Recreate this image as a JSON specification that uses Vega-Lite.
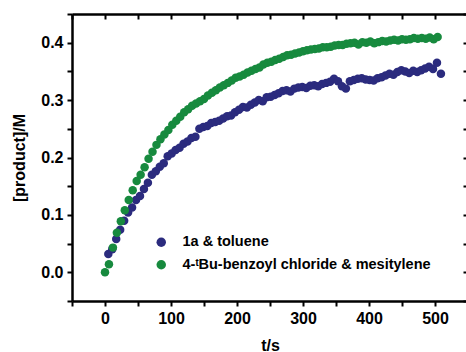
{
  "$schema": "https://vega.github.io/schema/vega-lite/v6.json",
  "width": 396,
  "height": 287,
  "autosize": {"type": "none"},
  "padding": {"left": 72, "top": 14, "right": 0, "bottom": 51},
  "background": "white",
  "config": {
    "view": {"stroke": null},
    "font": "Liberation Sans",
    "axis": {
      "domain": true,
      "domainColor": "black",
      "domainWidth": 2.5,
      "grid": false,
      "tickColor": "black",
      "tickWidth": 2,
      "labelFont": "Liberation Sans",
      "labelFontWeight": "bold",
      "labelFontSize": 16,
      "labelColor": "black",
      "titleFont": "Liberation Sans",
      "titleFontWeight": "bold",
      "titleFontSize": 16,
      "titleColor": "black"
    }
  },
  "datasets": {
    "pts": [
      {"t": 5, "v": 0.032, "s": "1a & toluene"},
      {"t": 11, "v": 0.040, "s": "1a & toluene"},
      {"t": 17, "v": 0.058, "s": "1a & toluene"},
      {"t": 23, "v": 0.074, "s": "1a & toluene"},
      {"t": 29, "v": 0.090, "s": "1a & toluene"},
      {"t": 35, "v": 0.104, "s": "1a & toluene"},
      {"t": 41, "v": 0.113, "s": "1a & toluene"},
      {"t": 47, "v": 0.126, "s": "1a & toluene"},
      {"t": 53, "v": 0.133, "s": "1a & toluene"},
      {"t": 59, "v": 0.145, "s": "1a & toluene"},
      {"t": 65, "v": 0.156, "s": "1a & toluene"},
      {"t": 71, "v": 0.170, "s": "1a & toluene"},
      {"t": 77, "v": 0.176, "s": "1a & toluene"},
      {"t": 83, "v": 0.184, "s": "1a & toluene"},
      {"t": 89, "v": 0.190, "s": "1a & toluene"},
      {"t": 95, "v": 0.202, "s": "1a & toluene"},
      {"t": 101, "v": 0.207, "s": "1a & toluene"},
      {"t": 107, "v": 0.213, "s": "1a & toluene"},
      {"t": 113, "v": 0.217, "s": "1a & toluene"},
      {"t": 119, "v": 0.224, "s": "1a & toluene"},
      {"t": 125, "v": 0.228, "s": "1a & toluene"},
      {"t": 131, "v": 0.234, "s": "1a & toluene"},
      {"t": 137, "v": 0.236, "s": "1a & toluene"},
      {"t": 143, "v": 0.250, "s": "1a & toluene"},
      {"t": 149, "v": 0.253, "s": "1a & toluene"},
      {"t": 155, "v": 0.255, "s": "1a & toluene"},
      {"t": 161, "v": 0.260, "s": "1a & toluene"},
      {"t": 167, "v": 0.262, "s": "1a & toluene"},
      {"t": 173, "v": 0.264, "s": "1a & toluene"},
      {"t": 179, "v": 0.268, "s": "1a & toluene"},
      {"t": 185, "v": 0.272, "s": "1a & toluene"},
      {"t": 191, "v": 0.273, "s": "1a & toluene"},
      {"t": 197, "v": 0.279, "s": "1a & toluene"},
      {"t": 203, "v": 0.283, "s": "1a & toluene"},
      {"t": 209, "v": 0.288, "s": "1a & toluene"},
      {"t": 215, "v": 0.287, "s": "1a & toluene"},
      {"t": 221, "v": 0.292, "s": "1a & toluene"},
      {"t": 227, "v": 0.296, "s": "1a & toluene"},
      {"t": 233, "v": 0.300, "s": "1a & toluene"},
      {"t": 239, "v": 0.298, "s": "1a & toluene"},
      {"t": 245, "v": 0.305, "s": "1a & toluene"},
      {"t": 251, "v": 0.306, "s": "1a & toluene"},
      {"t": 257, "v": 0.309, "s": "1a & toluene"},
      {"t": 263, "v": 0.312, "s": "1a & toluene"},
      {"t": 269, "v": 0.316, "s": "1a & toluene"},
      {"t": 275, "v": 0.317, "s": "1a & toluene"},
      {"t": 281, "v": 0.315, "s": "1a & toluene"},
      {"t": 287, "v": 0.320, "s": "1a & toluene"},
      {"t": 293, "v": 0.322, "s": "1a & toluene"},
      {"t": 299, "v": 0.323, "s": "1a & toluene"},
      {"t": 305, "v": 0.321, "s": "1a & toluene"},
      {"t": 311, "v": 0.325, "s": "1a & toluene"},
      {"t": 317, "v": 0.326, "s": "1a & toluene"},
      {"t": 323, "v": 0.324, "s": "1a & toluene"},
      {"t": 329, "v": 0.328, "s": "1a & toluene"},
      {"t": 335, "v": 0.330, "s": "1a & toluene"},
      {"t": 341, "v": 0.332, "s": "1a & toluene"},
      {"t": 347, "v": 0.337, "s": "1a & toluene"},
      {"t": 353, "v": 0.333, "s": "1a & toluene"},
      {"t": 359, "v": 0.324, "s": "1a & toluene"},
      {"t": 365, "v": 0.320, "s": "1a & toluene"},
      {"t": 371, "v": 0.333, "s": "1a & toluene"},
      {"t": 377, "v": 0.335, "s": "1a & toluene"},
      {"t": 383, "v": 0.337, "s": "1a & toluene"},
      {"t": 389, "v": 0.338, "s": "1a & toluene"},
      {"t": 395, "v": 0.336, "s": "1a & toluene"},
      {"t": 401, "v": 0.335, "s": "1a & toluene"},
      {"t": 407, "v": 0.334, "s": "1a & toluene"},
      {"t": 413, "v": 0.338, "s": "1a & toluene"},
      {"t": 419, "v": 0.340, "s": "1a & toluene"},
      {"t": 425, "v": 0.343, "s": "1a & toluene"},
      {"t": 431, "v": 0.346, "s": "1a & toluene"},
      {"t": 437, "v": 0.344, "s": "1a & toluene"},
      {"t": 443, "v": 0.349, "s": "1a & toluene"},
      {"t": 449, "v": 0.352, "s": "1a & toluene"},
      {"t": 455, "v": 0.350, "s": "1a & toluene"},
      {"t": 461, "v": 0.347, "s": "1a & toluene"},
      {"t": 467, "v": 0.351, "s": "1a & toluene"},
      {"t": 473, "v": 0.349, "s": "1a & toluene"},
      {"t": 479, "v": 0.352, "s": "1a & toluene"},
      {"t": 485, "v": 0.355, "s": "1a & toluene"},
      {"t": 491, "v": 0.358, "s": "1a & toluene"},
      {"t": 497, "v": 0.354, "s": "1a & toluene"},
      {"t": 503, "v": 0.365, "s": "1a & toluene"},
      {"t": 509, "v": 0.346, "s": "1a & toluene"},
      {"t": 0, "v": 0.000, "s": "4-ᵗBu-benzoyl chloride & mesitylene"},
      {"t": 6, "v": 0.014, "s": "4-ᵗBu-benzoyl chloride & mesitylene"},
      {"t": 12, "v": 0.043, "s": "4-ᵗBu-benzoyl chloride & mesitylene"},
      {"t": 18, "v": 0.069, "s": "4-ᵗBu-benzoyl chloride & mesitylene"},
      {"t": 24, "v": 0.089, "s": "4-ᵗBu-benzoyl chloride & mesitylene"},
      {"t": 30, "v": 0.108, "s": "4-ᵗBu-benzoyl chloride & mesitylene"},
      {"t": 36, "v": 0.126, "s": "4-ᵗBu-benzoyl chloride & mesitylene"},
      {"t": 42, "v": 0.143, "s": "4-ᵗBu-benzoyl chloride & mesitylene"},
      {"t": 48, "v": 0.159, "s": "4-ᵗBu-benzoyl chloride & mesitylene"},
      {"t": 54, "v": 0.170, "s": "4-ᵗBu-benzoyl chloride & mesitylene"},
      {"t": 60, "v": 0.183, "s": "4-ᵗBu-benzoyl chloride & mesitylene"},
      {"t": 66, "v": 0.198, "s": "4-ᵗBu-benzoyl chloride & mesitylene"},
      {"t": 72, "v": 0.210, "s": "4-ᵗBu-benzoyl chloride & mesitylene"},
      {"t": 78, "v": 0.222, "s": "4-ᵗBu-benzoyl chloride & mesitylene"},
      {"t": 84, "v": 0.232, "s": "4-ᵗBu-benzoyl chloride & mesitylene"},
      {"t": 90, "v": 0.240, "s": "4-ᵗBu-benzoyl chloride & mesitylene"},
      {"t": 96, "v": 0.248, "s": "4-ᵗBu-benzoyl chloride & mesitylene"},
      {"t": 102, "v": 0.257, "s": "4-ᵗBu-benzoyl chloride & mesitylene"},
      {"t": 108, "v": 0.264, "s": "4-ᵗBu-benzoyl chloride & mesitylene"},
      {"t": 114, "v": 0.271, "s": "4-ᵗBu-benzoyl chloride & mesitylene"},
      {"t": 120, "v": 0.279, "s": "4-ᵗBu-benzoyl chloride & mesitylene"},
      {"t": 126, "v": 0.284, "s": "4-ᵗBu-benzoyl chloride & mesitylene"},
      {"t": 132, "v": 0.290, "s": "4-ᵗBu-benzoyl chloride & mesitylene"},
      {"t": 138, "v": 0.294, "s": "4-ᵗBu-benzoyl chloride & mesitylene"},
      {"t": 144, "v": 0.298, "s": "4-ᵗBu-benzoyl chloride & mesitylene"},
      {"t": 150, "v": 0.302, "s": "4-ᵗBu-benzoyl chloride & mesitylene"},
      {"t": 156, "v": 0.308, "s": "4-ᵗBu-benzoyl chloride & mesitylene"},
      {"t": 162, "v": 0.313, "s": "4-ᵗBu-benzoyl chloride & mesitylene"},
      {"t": 168, "v": 0.317, "s": "4-ᵗBu-benzoyl chloride & mesitylene"},
      {"t": 174, "v": 0.322, "s": "4-ᵗBu-benzoyl chloride & mesitylene"},
      {"t": 180, "v": 0.326, "s": "4-ᵗBu-benzoyl chloride & mesitylene"},
      {"t": 186, "v": 0.330, "s": "4-ᵗBu-benzoyl chloride & mesitylene"},
      {"t": 192, "v": 0.334, "s": "4-ᵗBu-benzoyl chloride & mesitylene"},
      {"t": 198, "v": 0.339, "s": "4-ᵗBu-benzoyl chloride & mesitylene"},
      {"t": 204, "v": 0.341, "s": "4-ᵗBu-benzoyl chloride & mesitylene"},
      {"t": 210, "v": 0.344, "s": "4-ᵗBu-benzoyl chloride & mesitylene"},
      {"t": 216, "v": 0.348, "s": "4-ᵗBu-benzoyl chloride & mesitylene"},
      {"t": 222, "v": 0.351, "s": "4-ᵗBu-benzoyl chloride & mesitylene"},
      {"t": 228, "v": 0.354, "s": "4-ᵗBu-benzoyl chloride & mesitylene"},
      {"t": 234, "v": 0.357, "s": "4-ᵗBu-benzoyl chloride & mesitylene"},
      {"t": 240, "v": 0.362, "s": "4-ᵗBu-benzoyl chloride & mesitylene"},
      {"t": 246, "v": 0.365, "s": "4-ᵗBu-benzoyl chloride & mesitylene"},
      {"t": 252, "v": 0.367, "s": "4-ᵗBu-benzoyl chloride & mesitylene"},
      {"t": 258, "v": 0.370, "s": "4-ᵗBu-benzoyl chloride & mesitylene"},
      {"t": 264, "v": 0.372, "s": "4-ᵗBu-benzoyl chloride & mesitylene"},
      {"t": 270, "v": 0.375, "s": "4-ᵗBu-benzoyl chloride & mesitylene"},
      {"t": 276, "v": 0.378, "s": "4-ᵗBu-benzoyl chloride & mesitylene"},
      {"t": 282, "v": 0.379, "s": "4-ᵗBu-benzoyl chloride & mesitylene"},
      {"t": 288, "v": 0.381, "s": "4-ᵗBu-benzoyl chloride & mesitylene"},
      {"t": 294, "v": 0.383, "s": "4-ᵗBu-benzoyl chloride & mesitylene"},
      {"t": 300, "v": 0.385, "s": "4-ᵗBu-benzoyl chloride & mesitylene"},
      {"t": 306, "v": 0.387, "s": "4-ᵗBu-benzoyl chloride & mesitylene"},
      {"t": 312, "v": 0.388, "s": "4-ᵗBu-benzoyl chloride & mesitylene"},
      {"t": 318, "v": 0.389, "s": "4-ᵗBu-benzoyl chloride & mesitylene"},
      {"t": 324, "v": 0.390, "s": "4-ᵗBu-benzoyl chloride & mesitylene"},
      {"t": 330, "v": 0.392, "s": "4-ᵗBu-benzoyl chloride & mesitylene"},
      {"t": 336, "v": 0.392, "s": "4-ᵗBu-benzoyl chloride & mesitylene"},
      {"t": 342, "v": 0.393, "s": "4-ᵗBu-benzoyl chloride & mesitylene"},
      {"t": 348, "v": 0.395, "s": "4-ᵗBu-benzoyl chloride & mesitylene"},
      {"t": 354, "v": 0.396, "s": "4-ᵗBu-benzoyl chloride & mesitylene"},
      {"t": 360, "v": 0.396, "s": "4-ᵗBu-benzoyl chloride & mesitylene"},
      {"t": 366, "v": 0.398, "s": "4-ᵗBu-benzoyl chloride & mesitylene"},
      {"t": 372, "v": 0.399, "s": "4-ᵗBu-benzoyl chloride & mesitylene"},
      {"t": 378, "v": 0.400, "s": "4-ᵗBu-benzoyl chloride & mesitylene"},
      {"t": 384, "v": 0.397, "s": "4-ᵗBu-benzoyl chloride & mesitylene"},
      {"t": 390, "v": 0.401, "s": "4-ᵗBu-benzoyl chloride & mesitylene"},
      {"t": 396, "v": 0.400, "s": "4-ᵗBu-benzoyl chloride & mesitylene"},
      {"t": 402, "v": 0.402, "s": "4-ᵗBu-benzoyl chloride & mesitylene"},
      {"t": 408, "v": 0.399, "s": "4-ᵗBu-benzoyl chloride & mesitylene"},
      {"t": 414, "v": 0.401, "s": "4-ᵗBu-benzoyl chloride & mesitylene"},
      {"t": 420, "v": 0.403, "s": "4-ᵗBu-benzoyl chloride & mesitylene"},
      {"t": 426, "v": 0.402, "s": "4-ᵗBu-benzoyl chloride & mesitylene"},
      {"t": 432, "v": 0.404, "s": "4-ᵗBu-benzoyl chloride & mesitylene"},
      {"t": 438, "v": 0.405, "s": "4-ᵗBu-benzoyl chloride & mesitylene"},
      {"t": 444, "v": 0.404, "s": "4-ᵗBu-benzoyl chloride & mesitylene"},
      {"t": 450, "v": 0.406, "s": "4-ᵗBu-benzoyl chloride & mesitylene"},
      {"t": 456, "v": 0.405, "s": "4-ᵗBu-benzoyl chloride & mesitylene"},
      {"t": 462, "v": 0.406, "s": "4-ᵗBu-benzoyl chloride & mesitylene"},
      {"t": 468, "v": 0.408, "s": "4-ᵗBu-benzoyl chloride & mesitylene"},
      {"t": 474, "v": 0.407, "s": "4-ᵗBu-benzoyl chloride & mesitylene"},
      {"t": 480, "v": 0.408, "s": "4-ᵗBu-benzoyl chloride & mesitylene"},
      {"t": 486, "v": 0.407, "s": "4-ᵗBu-benzoyl chloride & mesitylene"},
      {"t": 492, "v": 0.409, "s": "4-ᵗBu-benzoyl chloride & mesitylene"},
      {"t": 498, "v": 0.406, "s": "4-ᵗBu-benzoyl chloride & mesitylene"},
      {"t": 504, "v": 0.410, "s": "4-ᵗBu-benzoyl chloride & mesitylene"}
    ]
  },
  "data": {"name": "pts"},
  "resolve": {"axis": {"x": "independent", "y": "independent"}},
  "layer": [
    {
      "mark": {"type": "point", "filled": true, "opacity": 1, "size": 72, "shape": "circle"},
      "encoding": {
        "x": {
          "field": "t", "type": "quantitative",
          "scale": {"domain": [-50, 550], "nice": false, "zero": false},
          "axis": {
            "orient": "bottom", "title": "t/s",
            "values": [-50, 0, 50, 100, 150, 200, 250, 300, 350, 400, 450, 500, 550],
            "labelExpr": "(datum.value >= 0 && datum.value % 100 == 0) ? datum.label : ''",
            "tickSize": 5, "labelPadding": 4, "titlePadding": 11, "labelFlush": false
          }
        },
        "y": {
          "field": "v", "type": "quantitative",
          "scale": {"domain": [-0.05, 0.45], "nice": false, "zero": false},
          "axis": {
            "orient": "left", "title": "[product]/M",
            "values": [-0.05, 0, 0.05, 0.1, 0.15, 0.2, 0.25, 0.3, 0.35, 0.4, 0.45],
            "labelExpr": "(datum.value > -0.01 && datum.value < 0.42 && abs(datum.value*10 - round(datum.value*10)) < 0.01) ? format(datum.value, '.1f') : ''",
            "tickSize": 5, "labelPadding": 4, "titlePadding": 13, "labelFlush": false
          }
        },
        "color": {
          "field": "s", "type": "nominal",
          "scale": {
            "domain": ["1a & toluene", "4-ᵗBu-benzoyl chloride & mesitylene"],
            "range": ["#2b2b7e", "#178a3e"]
          },
          "legend": {
            "orient": "none", "legendX": 82, "legendY": 221,
            "title": null,
            "symbolType": "circle", "symbolSize": 90, "symbolStrokeWidth": 0,
            "labelFont": "Liberation Sans", "labelFontWeight": "bold",
            "labelFontSize": 14.5, "labelColor": "black", "labelLimit": 0,
            "labelOffset": 14, "rowPadding": 7.5
          }
        }
      }
    },
    {
      "mark": {"type": "point", "opacity": 0},
      "encoding": {
        "x": {
          "field": "t", "type": "quantitative",
          "axis": {
            "orient": "top", "title": null, "labels": false,
            "values": [-50, 0, 50, 100, 150, 200, 250, 300, 350, 400, 450, 500, 550],
            "tickSize": -5
          }
        },
        "y": {
          "field": "v", "type": "quantitative",
          "axis": {
            "orient": "right", "title": null, "labels": false,
            "values": [-0.05, 0, 0.05, 0.1, 0.15, 0.2, 0.25, 0.3, 0.35, 0.4, 0.45],
            "tickSize": -5
          }
        }
      }
    }
  ]
}
